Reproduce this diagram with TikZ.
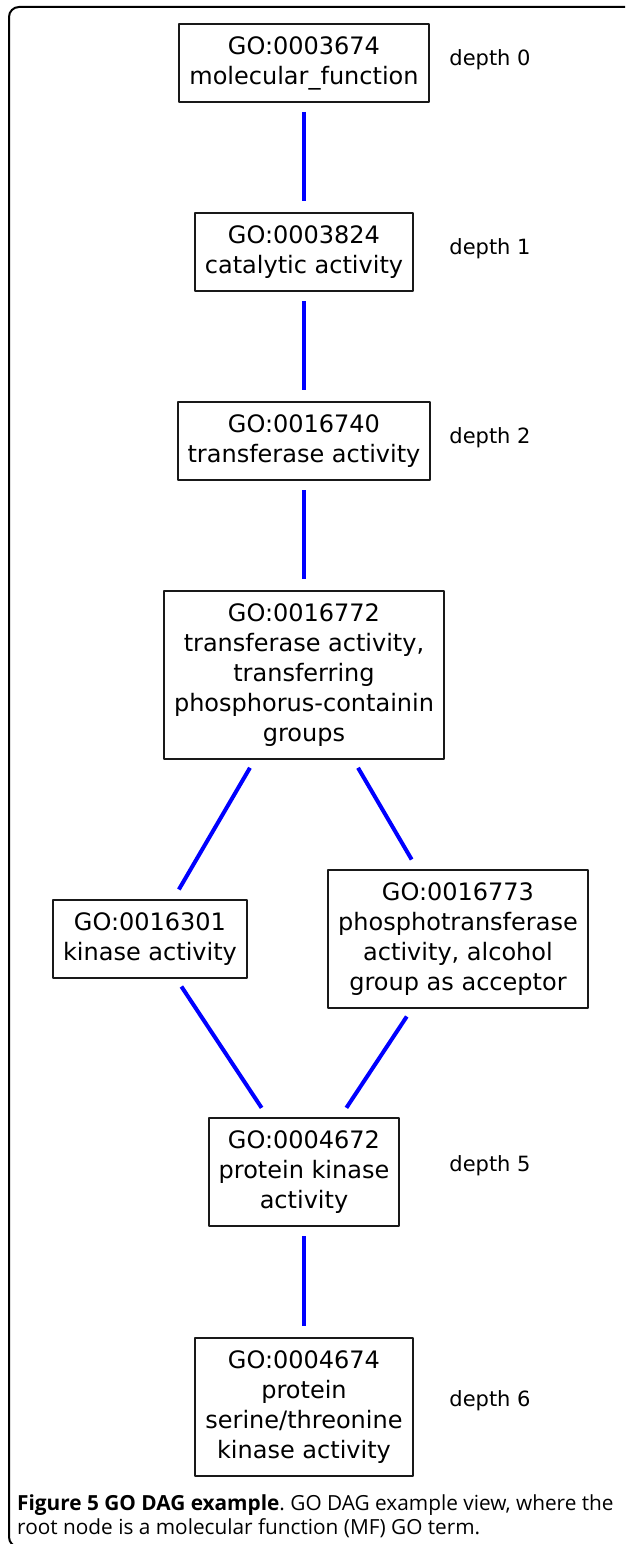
\documentclass[tikz,border=0pt]{standalone}
\usepackage{fontspec}
\newfontfamily\gofont{DejaVu Sans}
\newfontfamily\capfont{Open Sans}
\frenchspacing
\begin{document}
\begin{tikzpicture}[x=1pt, y=-1pt, line join=round,
	term/.style={draw=black!90, line width=2pt, align=center, inner xsep=10pt, inner ysep=0pt,
		minimum height={30pt*#1+18pt}, font=\gofont\fontsize{24}{30}\selectfont},
	deplabel/.style={inner sep=0pt, font=\gofont\fontsize{21}{25}\selectfont},
	link/.style={draw=blue, line width=4pt, shorten <=9pt, shorten >=11pt}]
	\useasboundingbox (0,0) rectangle (625,1544);
	\clip (0,0) rectangle (625,1544);
	% frame of the figure panel
	\draw[line width=2pt, rounded corners=10pt] (640,7)--(9,7)--(9,1547)--(640,1547);
	% GO terms
	\node[term=2] (mf) at (304,63) {GO:0003674\\molecular\_function};
	\node[term=2] (cat) at (304,252) {GO:0003824\\catalytic activity};
	\node[term=2] (trans) at (304,441) {GO:0016740\\transferase activity};
	\node[term=5] (phos) at (304,675) {GO:0016772\\transferase activity,\\transferring\\phosphorus-containin\\groups};
	\node[term=2] (kin) at (150,939) {GO:0016301\\kinase activity};
	\node[term=4] (alc) at (458,939) {GO:0016773\\phosphotransferase\\activity, alcohol\\group as acceptor};
	\node[term=3] (pk) at (304,1172) {GO:0004672\\protein kinase\\activity};
	\node[term=4] (stk) at (304,1407) {GO:0004674\\protein\\serine/threonine\\kinase activity};
	% depth labels
	\node[deplabel] (d0) at (490,60) {depth 0};
	\node[deplabel] (d1) at (490,249) {depth 1};
	\node[deplabel] (d2) at (490,438) {depth 2};
	\node[deplabel] (d5) at (490,1166) {depth 5};
	\node[deplabel] (d6) at (490,1401) {depth 6};
	% is_a links
	\foreach \a/\b in {mf/cat, cat/trans, trans/phos, phos/kin, phos/alc, kin/pk, alc/pk, pk/stk}
		\draw[link] (\a)--(\b);
	% caption
	\node[anchor=north west, align=left, inner sep=0pt, font=\capfont\fontsize{20.8}{24}\selectfont] (cap) at (17,1494)
		{\textbf{Figure 5 GO DAG example}. GO DAG example view, where the\\root node is a molecular function (MF) GO term.};
\end{tikzpicture}
\end{document}
